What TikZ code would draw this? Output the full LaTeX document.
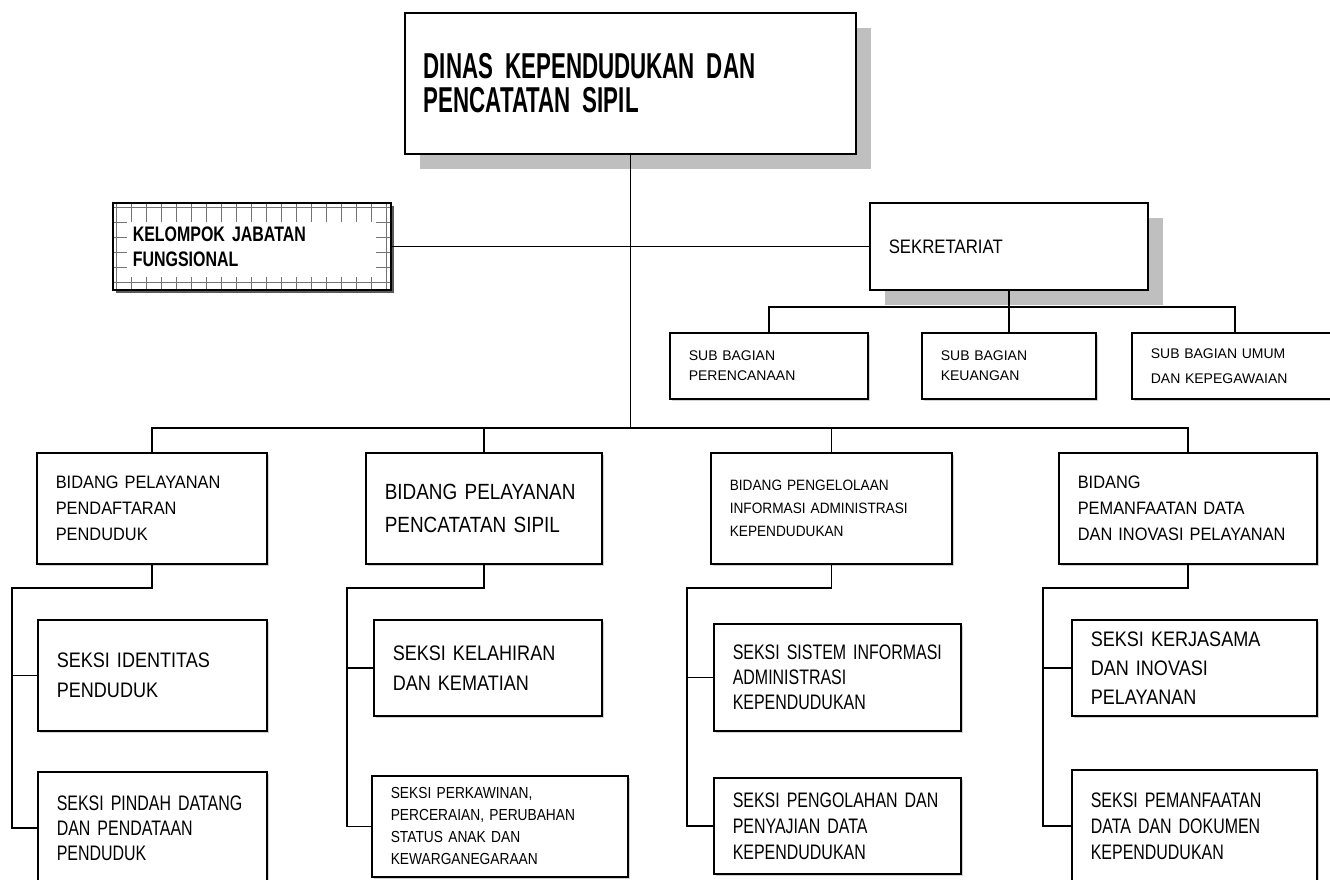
\documentclass[tikz,border=0pt]{standalone}
\usepackage{fontspec}
\defaultfontfeatures{WordSpace=0.7}
\setmainfont{Liberation Sans}
\newfontfamily\titlefont[FakeStretch=0.62,WordSpace=0.7]{Liberation Sans}
\newfontfamily\groupfont[FakeStretch=0.76,WordSpace=0.7]{Liberation Sans}
\newfontfamily\narrowfont[FakeStretch=0.76,WordSpace=0.7]{Liberation Sans}
\newfontfamily\orgfont[FakeStretch=0.86,WordSpace=0.7]{Liberation Sans}
\newfontfamily\bidfont[FakeStretch=0.91,WordSpace=0.7]{Liberation Sans}
\usetikzlibrary{shadows}

\begin{document}
\begin{tikzpicture}[x=1pt,y=-1pt,
  orgbox/.style={draw,line width=1.6pt,fill=white,anchor=north west,align=left,inner xsep=19pt,inner ysep=0pt},
  softshadow/.style={drop shadow={shadow xshift=2pt,shadow yshift=-2pt,fill=gray!35,opacity=1}},
  hardshadow/.style={drop shadow={shadow xshift=15pt,shadow yshift=-15pt,fill=gray!50,opacity=1}},
  link/.style={line width=1.4pt}]
  \useasboundingbox (0,0) rectangle (1330,879);
  \clip (0,0) rectangle (1330,879);
  \fill[white] (0,0) rectangle (1330,879);

  % head and secretariat
  \node[orgbox,hardshadow,text width=413,minimum height=141,font=\titlefont\bfseries\fontsize{36}{34}\selectfont] (dinas) at (404,12) {DINAS KEPENDUDUKAN DAN\\PENCATATAN SIPIL};
  \node[orgbox,hardshadow,text width=240,minimum height=87,font=\orgfont\fontsize{19.5}{24}\selectfont] (sekretariat) at (869,202) {SEKRETARIAT};

  % functional group, hatched frame
  \fill[black!65] (116,206) rectangle (394,293);
  \begin{scope}
    \clip (112,202) rectangle (390,289);
    \fill[white] (112,202) rectangle (390,289);
    \foreach \x in {116,131,...,386} \draw[black!55,line width=0.8pt] (\x,202) -- (\x,289);
    \foreach \y in {207,222,...,282} \draw[black!55,line width=0.8pt] (112,\y) -- (390,\y);
    \fill[white] (127,222) rectangle (376,277);
  \end{scope}
  \node[orgbox,fill=none,inner xsep=20pt,text width=238,minimum height=87,font=\groupfont\bfseries\fontsize{21}{25}\selectfont] (fungsional) at (112,202) {KELOMPOK JABATAN\\FUNGSIONAL};

  % sub sections
  \node[orgbox,softshadow,text width=160,minimum height=66,font=\fontsize{14}{20}\selectfont] (subrenc) at (669,332) {SUB BAGIAN\\PERENCANAAN};
  \node[orgbox,softshadow,text width=136,minimum height=66,font=\fontsize{14}{20}\selectfont] (subuang) at (921,332) {SUB BAGIAN\\KEUANGAN};
  \node[orgbox,softshadow,text width=168,minimum height=66,font=\fontsize{14}{25}\selectfont] (subumum) at (1131,332) {SUB BAGIAN UMUM\\DAN KEPEGAWAIAN};

  % fields
  \node[orgbox,softshadow,text width=192,minimum height=111,font=\bidfont\fontsize{18}{26}\selectfont] (bid1) at (36,452) {BIDANG PELAYANAN\\PENDAFTARAN\\PENDUDUK};
  \node[orgbox,softshadow,text width=198,minimum height=111,font=\orgfont\fontsize{22}{33}\selectfont] (bid2) at (365,452) {BIDANG PELAYANAN\\PENCATATAN SIPIL};
  \node[orgbox,softshadow,text width=203,minimum height=111,font=\bidfont\fontsize{15}{23}\selectfont] (bid3) at (710,452) {BIDANG PENGELOLAAN\\INFORMASI ADMINISTRASI\\KEPENDUDUKAN};
  \node[orgbox,softshadow,text width=220,minimum height=111,font=\bidfont\fontsize{18}{26}\selectfont] (bid4) at (1058,452) {BIDANG\\PEMANFAATAN DATA\\DAN INOVASI PELAYANAN};

  % sections
  \node[orgbox,softshadow,text width=191,minimum height=111,font=\orgfont\fontsize{21}{30}\selectfont] (ident) at (37,619) {SEKSI IDENTITAS\\PENDUDUK};
  \node[orgbox,softshadow,text width=191,minimum height=112,font=\narrowfont\fontsize{21}{25}\selectfont] (pindah) at (37,771) {SEKSI PINDAH DATANG\\DAN PENDATAAN\\PENDUDUK};
  \node[orgbox,softshadow,text width=190,minimum height=96,font=\orgfont\fontsize{21}{30}\selectfont] (lahir) at (373,619) {SEKSI KELAHIRAN\\DAN KEMATIAN};
  \node[orgbox,softshadow,text width=218,minimum height=101,font=\orgfont\fontsize{16}{22}\selectfont] (kawin) at (371,775) {SEKSI PERKAWINAN,\\PERCERAIAN, PERUBAHAN\\STATUS ANAK DAN\\KEWARGANEGARAAN};
  \node[orgbox,softshadow,text width=209,minimum height=107,font=\narrowfont\fontsize{21}{25}\selectfont] (sistem) at (713,623) {\mbox{SEKSI SISTEM INFORMASI}\\ADMINISTRASI\\KEPENDUDUKAN};
  \node[orgbox,softshadow,text width=209,minimum height=96,font=\narrowfont\fontsize{21}{26}\selectfont] (olah) at (713,777) {SEKSI PENGOLAHAN DAN\\PENYAJIAN DATA\\KEPENDUDUKAN};
  \node[orgbox,softshadow,text width=207,minimum height=96,font=\orgfont\fontsize{21}{29}\selectfont] (kerja) at (1071,619) {SEKSI KERJASAMA\\DAN INOVASI\\PELAYANAN};
  \node[orgbox,softshadow,text width=207,minimum height=112,font=\narrowfont\fontsize{21}{26}\selectfont] (manfaat) at (1071,769) {SEKSI PEMANFAATAN\\DATA DAN DOKUMEN\\KEPENDUDUKAN};

  % connectors
  \coordinate (bus) at (0,428);
  \coordinate (subbus) at (0,307);
  \coordinate (rail1) at (12,588);
  \coordinate (rail2) at (347,588);
  \coordinate (rail3) at (687,588);
  \coordinate (rail4) at (1043,588);
  \draw[link] (dinas.south) -- (dinas.south |- bus);
  \draw[link] (fungsional.east) -- (sekretariat.west);
  \draw[link] (sekretariat.south) -- (subuang.north);
  \draw[link] (subrenc.north) |- (subumum.north |- subbus) -- (subumum.north);
  \draw[link] (bid1.north) |- (bid4.north |- bus) -- (bid4.north);
  \draw[link] (bid2.north) -- (bid2.north |- bus);
  \draw[link] (bid3.north) -- (bid3.north |- bus);
  \draw[link] (bid1.south) |- (rail1) |- (pindah.west);
  \draw[link] (rail1 |- ident.west) -- (ident.west);
  \draw[link] (bid2.south) |- (rail2) |- (kawin.west);
  \draw[link] (rail2 |- lahir.west) -- (lahir.west);
  \draw[link] (bid3.south) |- (rail3) |- (olah.west);
  \draw[link] (rail3 |- sistem.west) -- (sistem.west);
  \draw[link] (bid4.south) |- (rail4) |- (manfaat.west);
  \draw[link] (rail4 |- kerja.west) -- (kerja.west);
\end{tikzpicture}
\end{document}
